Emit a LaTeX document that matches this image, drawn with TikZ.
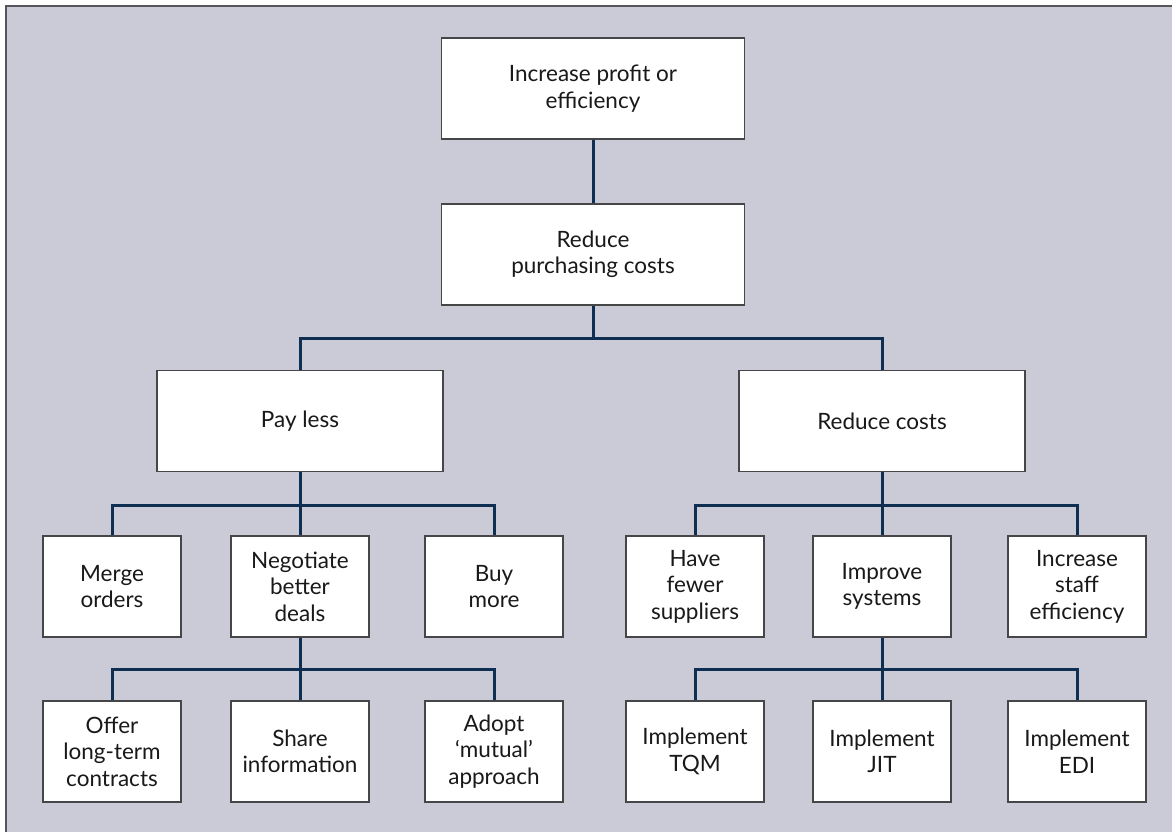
\documentclass[tikz,border=0pt]{standalone}
\usepackage{fontspec}
\setmainfont{Lato}
\definecolor{panel}{RGB}{203,203,215}
\definecolor{framegray}{RGB}{85,85,90}
\definecolor{boxline}{RGB}{70,70,72}
\definecolor{navy}{RGB}{14,47,82}
\begin{document}
\begin{tikzpicture}[x=1pt,y=-1pt,
  box/.style={draw=boxline, line width=1.6pt, fill=white, minimum height=101pt,
    align=center, inner sep=0pt, text=black!90,
    font=\fontsize{22.5}{26.5}\selectfont},
  wide/.style={box, minimum width=303pt},
  mid/.style={box, minimum width=286pt},
  small/.style={box, minimum width=138pt},
  link/.style={draw=navy, line width=3pt, line join=miter}]
\useasboundingbox (0,0) rectangle (1172,832);
% panel with its top and left rule
\fill[panel] (6,6) rectangle (1190,850);
\draw[framegray, line width=2pt] (6,850) -- (6,6) -- (1190,6);

% level 0 and 1
\node[wide] (top) at (593,88.5) {Increase profit or\\efficiency};
\node[wide] (rpc) at (593,254.5) {Reduce\\purchasing costs};
% level 2
\node[mid] (payless) at (300,421) {Pay less};
\node[mid] (redcost) at (882,421) {Reduce costs};
% level 3
\node[small] (merge) at (112,586.5) {Merge\\orders};
\node[small] (negot) at (300,586.5) {Negotiate\\better\\deals};
\node[small] (buy) at (494,586.5) {Buy\\more};
\node[small] (fewer) at (695,586.5) {Have\\fewer\\suppliers};
\node[small] (improve) at (882,586.5) {Improve\\systems};
\node[small] (staff) at (1077,586.5) {Increase\\staff\\efficiency};
% level 4
\node[small] (offer) at (112,751.5) {Offer\\long-term\\contracts};
\node[small] (share) at (300,751.5) {Share\\information};
\node[small] (adopt) at (494,751.5) {Adopt\\‘mutual’\\approach};
\node[small] (tqm) at (695,751.5) {Implement\\TQM};
\node[small] (jit) at (882,751.5) {Implement\\JIT};
\node[small] (edi) at (1077,751.5) {Implement\\EDI};

% connectors
\draw[link] (top.south) -- (rpc.north);
\draw[link] (rpc.south) -- ++(0,33) coordinate (b0);
\draw[link] (payless.north) |- (b0) -| (redcost.north);

\draw[link] (payless.south) -- ++(0,33) coordinate (b1);
\draw[link] (merge.north) |- (b1) -| (buy.north);
\draw[link] (b1) -- (negot.north);

\draw[link] (redcost.south) -- ++(0,33) coordinate (b2);
\draw[link] (fewer.north) |- (b2) -| (staff.north);
\draw[link] (b2) -- (improve.north);

\draw[link] (negot.south) -- ++(0,32) coordinate (b3);
\draw[link] (offer.north) |- (b3) -| (adopt.north);
\draw[link] (b3) -- (share.north);

\draw[link] (improve.south) -- ++(0,32) coordinate (b4);
\draw[link] (tqm.north) |- (b4) -| (edi.north);
\draw[link] (b4) -- (jit.north);
\end{tikzpicture}
\end{document}
